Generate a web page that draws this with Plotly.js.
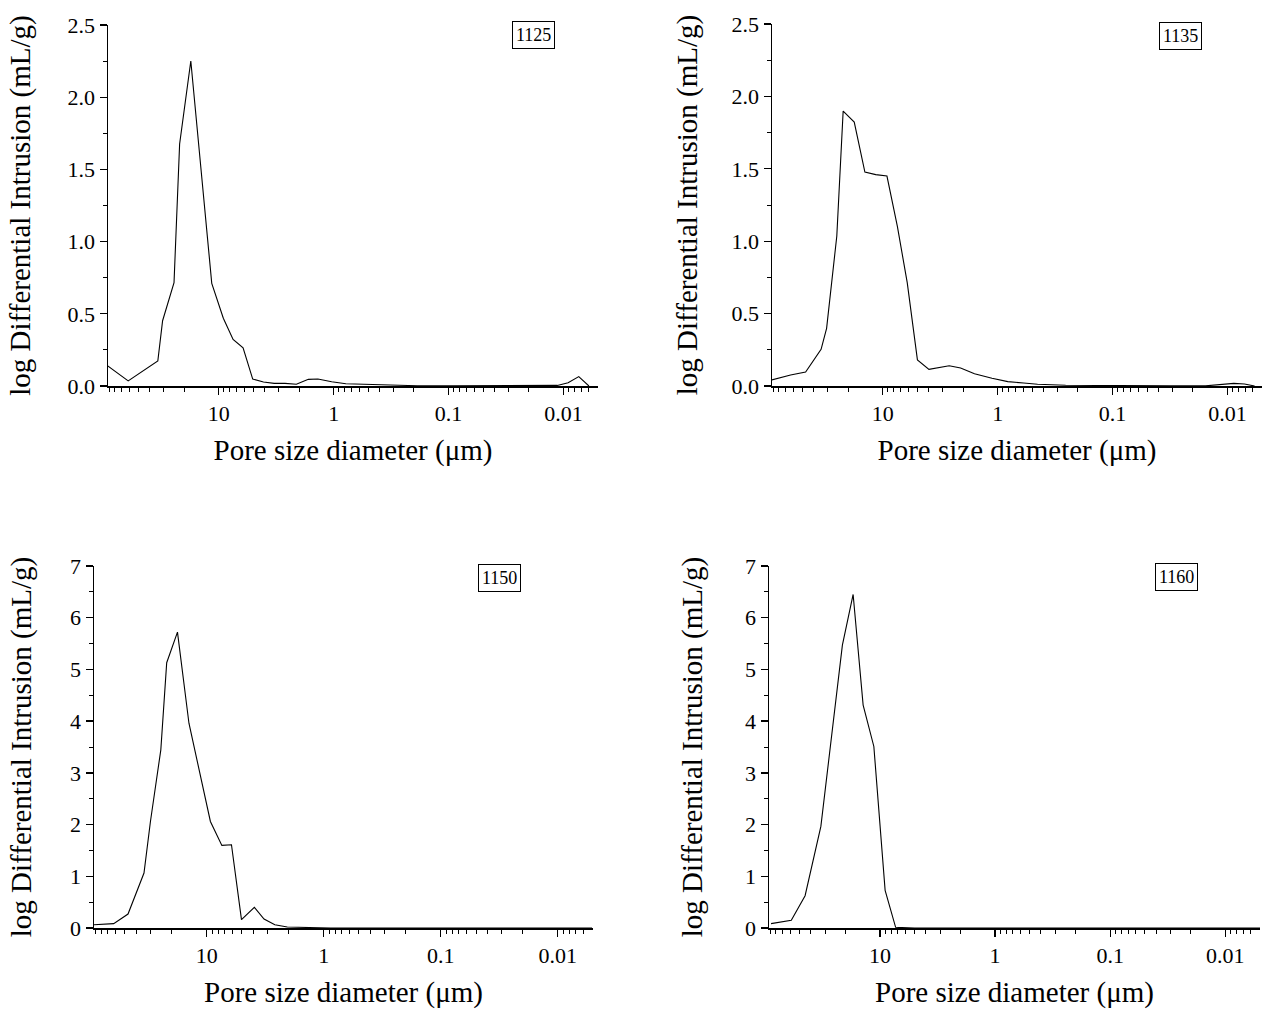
<!DOCTYPE html>
<html>
<head>
<meta charset="utf-8">
<script src="https://cdn.plot.ly/plotly-3.0.1.min.js"></script>
<style>
  html, body { margin: 0; padding: 0; background: #ffffff; }
  #chart { width: 1265px; height: 1010px; }
</style>
</head>
<body>
<div id="chart"></div>
<script>
// ---- Data (pore diameter in µm, log differential intrusion in mL/g) ----
const x1125 = [92.5, 61.4, 33.9, 30.8, 24.5, 21.9, 17.5, 11.5, 9.12, 7.5, 6.14, 5.06, 4.08, 3.29, 2.65, 2.11, 1.66, 1.37, 1.04, 0.783, 0.547, 0.383, 0.267, 0.187, 0.091, 0.045, 0.0215, 0.0113, 0.0091, 0.00735, 0.006];
const y1125 = [0.139, 0.035, 0.173, 0.452, 0.716, 1.676, 2.251, 0.711, 0.469, 0.323, 0.265, 0.048, 0.028, 0.018, 0.018, 0.012, 0.046, 0.048, 0.030, 0.016, 0.012, 0.007, 0.003, 0.002, 0.001, 0.001, 0.001, 0.004, 0.023, 0.065, 0.0];

const x1135 = [93.3, 63.4, 46.9, 34.4, 30.8, 25.1, 22.1, 17.7, 14.3, 11.5, 9.19, 7.45, 6.12, 4.99, 3.96, 2.64, 2.10, 1.59, 1.12, 0.816, 0.594, 0.449, 0.256, 0.127, 0.063, 0.031, 0.0155, 0.011, 0.0088, 0.0071, 0.0058];
const y1135 = [0.041, 0.076, 0.097, 0.253, 0.398, 1.036, 1.899, 1.823, 1.478, 1.460, 1.450, 1.10, 0.714, 0.180, 0.115, 0.140, 0.124, 0.085, 0.053, 0.030, 0.021, 0.012, 0.005, 0.002, 0.001, 0.001, 0.001, 0.012, 0.018, 0.014, 0.0];

const x1150 = [92, 62.5, 47.1, 34.4, 30.3, 24.7, 22.0, 17.8, 14.2, 9.31, 7.43, 6.15, 5.05, 3.92, 3.24, 2.62, 2.05, 1.34, 0.87, 0.466, 0.162, 0.04, 0.0098, 0.0051];
const y1150 = [0.064, 0.084, 0.270, 1.063, 2.06, 3.445, 5.13, 5.72, 3.96, 2.06, 1.597, 1.61, 0.161, 0.40, 0.174, 0.064, 0.019, 0.006, 0, 0, 0, 0, 0, 0];

const x1160 = [88.3, 58.9, 44.7, 32.6, 21.2, 17.1, 14.0, 11.3, 9.02, 7.31, 5.0, 2.0, 0.5, 0.1, 0.02, 0.005];
const y1160 = [0.084, 0.148, 0.625, 1.964, 5.47, 6.45, 4.31, 3.51, 0.728, 0.013, 0, 0, 0, 0, 0, 0];

const sampleLabels = ["1125", "1135", "1150", "1160"];
const xTickVals = [10, 1, 0.1, 0.01];
const xTickText = ["10", "1", "0.1", "0.01"];
const xTitle = "Pore size diameter (\u03BCm)";
const yTitle = "log Differential Intrusion (mL/g)";

// ---- Layout helpers ----
const W = 1265, H = 1010;
const FONT = "Liberation Serif, Times New Roman, serif";
// panel boxes in pixels: [left, right, top, bottom]
const boxes = [
  [108, 598, 25, 386],
  [772, 1262, 24, 386],
  [94, 593, 566, 928],
  [769, 1260, 566, 928]
];
const yRanges = [[0, 2.5], [0, 2.5], [0, 7], [0, 7]];
const yDticks = [0.5, 0.5, 1, 1];
const yFormats = [".1f", ".1f", "d", "d"];
const yStandoffs = [28, 25, 30, 34];
const xRange = [Math.log10(92), Math.log10(0.005)];

const minorX = [];
for (let e = -3; e <= 1; e++) {
  for (let k = 2; k <= 9; k++) {
    const v = k * Math.pow(10, e);
    if (v > 0.005 && v < 92) minorX.push(v);
  }
}

const xs = [x1125, x1135, x1150, x1160];
const ys = [y1125, y1135, y1150, y1160];

const traces = [];
const layout = {
  width: W, height: H,
  margin: {l: 0, r: 0, t: 0, b: 0},
  paper_bgcolor: "#ffffff",
  plot_bgcolor: "#ffffff",
  showlegend: false,
  font: {family: FONT, color: "#000000", size: 22},
  annotations: []
};

for (let i = 0; i < 4; i++) {
  const n = i === 0 ? "" : String(i + 1);
  traces.push({
    type: "scatter", mode: "lines",
    x: xs[i], y: ys[i],
    xaxis: "x" + n, yaxis: "y" + n,
    name: sampleLabels[i],
    line: {color: "#000000", width: 1.1},
    hoverinfo: "x+y"
  });
  const [l, r, t, b] = boxes[i];
  layout["xaxis" + n] = {
    type: "log",
    domain: [l / W, r / W],
    anchor: "y" + n,
    range: xRange,
    tickmode: "array",
    tickvals: xTickVals,
    ticktext: xTickText,
    ticks: "outside", ticklen: 7, tickwidth: 1.3, tickcolor: "#000",
    minor: {tickmode: "array", tickvals: minorX, ticks: "outside", ticklen: 4, tickwidth: 1, tickcolor: "#000", showgrid: false},
    showline: true, linecolor: "#000", linewidth: 1.5,
    showgrid: false, zeroline: false,
    tickfont: {family: FONT, size: 22, color: "#000"},
    title: {text: xTitle, font: {family: FONT, size: 29, color: "#000"}, standoff: 15}
  };
  layout["yaxis" + n] = {
    domain: [1 - b / H, 1 - t / H],
    anchor: "x" + n,
    range: yRanges[i],
    dtick: yDticks[i], tick0: 0,
    tickformat: yFormats[i],
    ticks: "outside", ticklen: 7, tickwidth: 1.3, tickcolor: "#000",
    minor: {dtick: yDticks[i] / 2, ticks: "outside", ticklen: 4, tickwidth: 1, tickcolor: "#000", showgrid: false},
    showline: true, linecolor: "#000", linewidth: 1.5,
    showgrid: false, zeroline: false,
    tickfont: {family: FONT, size: 22, color: "#000"},
    title: {text: yTitle, font: {family: FONT, size: 29, color: "#000"}, standoff: yStandoffs[i]}
  };
}

// sample label boxes (centres in px)
const labelPos = [[533, 35], [1180, 36], [499, 578], [1176, 577]];
for (let i = 0; i < 4; i++) {
  layout.annotations.push({
    xref: "paper", yref: "paper",
    x: labelPos[i][0] / W, y: 1 - labelPos[i][1] / H,
    xanchor: "center", yanchor: "middle",
    text: sampleLabels[i], showarrow: false,
    font: {family: FONT, size: 18, color: "#000"},
    bordercolor: "#000", borderwidth: 1, borderpad: 3, bgcolor: "#fff"
  });
}

Plotly.newPlot("chart", traces, layout, {displayModeBar: false, staticPlot: true});
</script>
</body>
</html>
